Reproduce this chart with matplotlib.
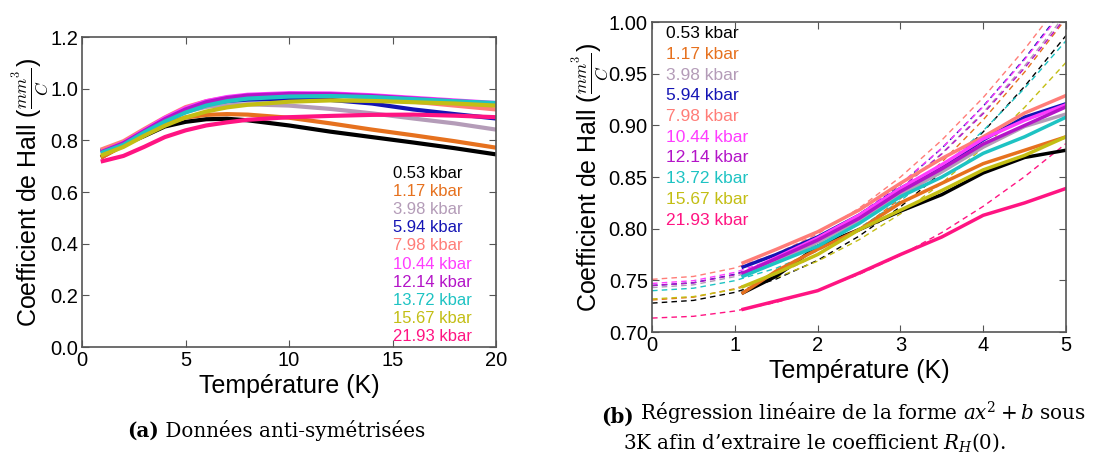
import matplotlib
matplotlib.use('Agg')
import matplotlib.pyplot as plt

plt.rcParams['font.family'] = ['Liberation Sans', 'DejaVu Sans']
plt.rcParams['mathtext.fontset'] = 'dejavuserif'

labels = ['0.53 kbar', '1.17 kbar', '3.98 kbar', '5.94 kbar', '7.98 kbar',
          '10.44 kbar', '12.14 kbar', '13.72 kbar', '15.67 kbar', '21.93 kbar']
colors = ['#000000', '#e6711e', '#b49cb8', '#1414b4', '#ff7d78',
          '#ff3cff', '#b414c8', '#1ec3c3', '#c3be14', '#ff1482']

# (a) anti-symmetrised data, 1-20 K
T_a = [1, 2, 3, 4, 5, 6, 7, 8, 10, 12, 14, 16, 18, 20]
R_a = [
    [0.738, 0.783, 0.817, 0.854, 0.872, 0.882, 0.884, 0.878, 0.858, 0.834, 0.813, 0.792, 0.770, 0.746],
    [0.737, 0.780, 0.825, 0.863, 0.889, 0.899, 0.902, 0.900, 0.888, 0.866, 0.842, 0.820, 0.797, 0.772],
    [0.755, 0.787, 0.833, 0.879, 0.911, 0.930, 0.938, 0.940, 0.935, 0.922, 0.905, 0.885, 0.866, 0.842],
    [0.763, 0.792, 0.839, 0.886, 0.921, 0.942, 0.953, 0.958, 0.961, 0.957, 0.943, 0.920, 0.902, 0.885],
    [0.767, 0.797, 0.844, 0.889, 0.929, 0.952, 0.966, 0.974, 0.978, 0.975, 0.965, 0.950, 0.935, 0.920],
    [0.757, 0.791, 0.839, 0.887, 0.925, 0.952, 0.968, 0.977, 0.983, 0.982, 0.975, 0.965, 0.955, 0.945],
    [0.757, 0.789, 0.836, 0.882, 0.920, 0.948, 0.964, 0.974, 0.980, 0.979, 0.972, 0.962, 0.952, 0.942],
    [0.754, 0.783, 0.831, 0.873, 0.908, 0.935, 0.952, 0.962, 0.970, 0.972, 0.968, 0.960, 0.952, 0.945],
    [0.744, 0.775, 0.818, 0.857, 0.889, 0.912, 0.928, 0.938, 0.950, 0.955, 0.953, 0.948, 0.943, 0.935],
    [0.720, 0.740, 0.775, 0.813, 0.839, 0.858, 0.870, 0.880, 0.890, 0.895, 0.899, 0.900, 0.896, 0.890],
]

# (b) low temperature data, 1.1-5 K
T_b = [1.1, 1.5, 2, 2.5, 3, 3.5, 4, 4.5, 5]
R_b = [
    [0.738, 0.754, 0.783, 0.799, 0.817, 0.833, 0.854, 0.869, 0.876],
    [0.738, 0.759, 0.780, 0.799, 0.825, 0.844, 0.863, 0.876, 0.889],
    [0.755, 0.768, 0.787, 0.808, 0.833, 0.855, 0.879, 0.899, 0.911],
    [0.763, 0.775, 0.792, 0.813, 0.839, 0.860, 0.886, 0.908, 0.921],
    [0.767, 0.780, 0.797, 0.818, 0.844, 0.868, 0.889, 0.912, 0.929],
    [0.757, 0.772, 0.791, 0.813, 0.839, 0.862, 0.887, 0.905, 0.920],
    [0.757, 0.771, 0.789, 0.810, 0.836, 0.858, 0.882, 0.900, 0.918],
    [0.754, 0.767, 0.783, 0.805, 0.831, 0.850, 0.873, 0.889, 0.908],
    [0.744, 0.757, 0.775, 0.799, 0.818, 0.837, 0.857, 0.871, 0.889],
    [0.722, 0.730, 0.740, 0.757, 0.775, 0.792, 0.813, 0.825, 0.839],
]

# fitted ax^2+b curves
T_fit = [0, 0.5, 1, 1.5, 2, 2.5, 3, 3.5, 4, 4.5, 5]
R_fit = [
    [0.728, 0.7306, 0.7384, 0.7513, 0.7694, 0.7928, 0.8212, 0.8549, 0.8938, 0.9378, 0.987],
    [0.731, 0.7337, 0.7419, 0.7555, 0.7746, 0.7991, 0.8291, 0.8645, 0.9054, 0.9517, 1.0035],
    [0.743, 0.7457, 0.7536, 0.7669, 0.7854, 0.8093, 0.8384, 0.8729, 0.9126, 0.9577, 1.008],
    [0.745, 0.7477, 0.7559, 0.7694, 0.7884, 0.8128, 0.8427, 0.8779, 0.9186, 0.9647, 1.0163],
    [0.751, 0.7538, 0.762, 0.7758, 0.795, 0.8198, 0.85, 0.8858, 0.927, 0.9738, 1.026],
    [0.747, 0.7497, 0.7577, 0.7711, 0.7898, 0.8139, 0.8433, 0.8781, 0.9182, 0.9637, 1.0145],
    [0.745, 0.7476, 0.7554, 0.7684, 0.7866, 0.81, 0.8386, 0.8724, 0.9114, 0.9556, 1.005],
    [0.740, 0.7424, 0.7497, 0.7618, 0.7787, 0.8005, 0.8271, 0.8586, 0.8949, 0.936, 0.982],
    [0.732, 0.7343, 0.7412, 0.7526, 0.7686, 0.7893, 0.8144, 0.8442, 0.8786, 0.9175, 0.961],
    [0.7135, 0.7152, 0.7203, 0.7287, 0.7405, 0.7558, 0.7743, 0.7963, 0.8217, 0.8504, 0.8825],
]

fig = plt.figure(figsize=(10.94, 4.57), dpi=100)
ax1 = fig.add_axes([0.075, 0.2407, 0.3784, 0.678])
ax2 = fig.add_axes([0.596, 0.2735, 0.3784, 0.678])

ylab = r'Coefficient de Hall ($\frac{mm^3}{C}$)'

def style(ax, ylx):
    for s in ax.spines.values():
        s.set_color('#555555')
        s.set_linewidth(1.2)
    ax.tick_params(direction='in', top=True, right=True, length=5, color='#555555',
                   labelsize=14.5, pad=3)
    ax.set_xlabel('Température (K)', fontsize=18, labelpad=3)
    yl = ax.set_ylabel(ylab, fontsize=18)
    yl.set_math_fontfamily('cm')
    ax.yaxis.set_label_coords(ylx, 0.5)

# panel a
lines = []
for r, c, lab in zip(R_a, colors, labels):
    l, = ax1.plot(T_a, r, color=c, lw=3, label=lab)
    lines.append(l)
ax1.set_xlim(0, 20)
ax1.set_ylim(0, 1.2)
ax1.set_xticks([0, 5, 10, 15, 20])
ax1.set_yticks([0, 0.2, 0.4, 0.6, 0.8, 1.0, 1.2])
ax1.set_yticklabels(['0.0', '0.2', '0.4', '0.6', '0.8', '1.0', '1.2'])
style(ax1, -0.076)
ax1.legend(handles=lines, loc='lower right', frameon=False, handlelength=0,
           handletextpad=0, labelcolor='linecolor', fontsize=12,
           labelspacing=0.19, borderaxespad=0.1, bbox_to_anchor=(0.962, -0.018))

# panel b
lines = []
for rf, c in zip(R_fit, colors):
    ax2.plot(T_fit, rf, color=c, lw=1, ls=(0, (4, 3)), zorder=1)
for r, c, lab in zip(R_b, colors, labels):
    l, = ax2.plot(T_b, r, color=c, lw=2.5, label=lab, zorder=2)
    lines.append(l)
ax2.set_xlim(0, 5)
ax2.set_ylim(0.70, 1.00)
ax2.set_xticks([0, 1, 2, 3, 4, 5])
ax2.set_yticks([0.70, 0.75, 0.80, 0.85, 0.90, 0.95, 1.00])
ax2.set_yticklabels(['0.70', '0.75', '0.80', '0.85', '0.90', '0.95', '1.00'])
style(ax2, -0.098)
ax2.legend(handles=lines, loc='upper left', frameon=False, handlelength=0,
           handletextpad=0, labelcolor='linecolor', fontsize=12.5,
           labelspacing=0.32, borderaxespad=0.0, bbox_to_anchor=(0.017, 1.01))

# captions
cap = dict(family='DejaVu Serif', fontsize=14.3)
ta = fig.text(0.1161, 0.0438, '(a)', fontweight='bold', va='baseline', **cap)
ax1.annotate(' Données anti-symétrisées', xy=(1, 0), xycoords=ta,
             va='bottom', **cap)
tb = fig.text(0.5494, 0.0744, '(b)', fontweight='bold', va='baseline', **cap)
ax2.annotate(r' Régression linéaire de la forme $ax^2+b$ sous', xy=(1, 0),
             xycoords=tb, va='bottom', **cap)
fig.text(0.5695, 0.0175, r'3K afin d’extraire le coefficient $R_H(0)$.',
         va='baseline', **cap)

fig.savefig('out.png', dpi=100)
